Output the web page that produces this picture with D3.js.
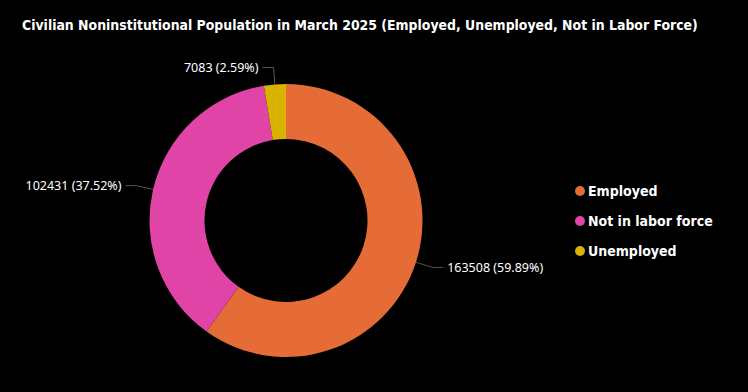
<!DOCTYPE html>
<html>
<head>
<meta charset="utf-8">
<script src="https://cdn.jsdelivr.net/npm/d3@7"></script>
<style>
	body { margin: 0; background: #000; }
	svg { display: block; }
</style>
</head>
<body>
<div id="chart"></div>
<script>
let categories = ["Employed", "Not in labor force", "Unemployed"];
let values = [163508, 102431, 7083];
let percents = ["59.89%", "37.52%", "2.59%"];
let colors = ["#E66C37", "#E044A7", "#D9B300"];

var width = 748,
	height = 392;
var cx = 286, cy = 220.5;
var outerR = 136.5, innerR = 81.5;

var svg = d3.select("#chart").append("svg")
	.attr("width", width)
	.attr("height", height);

svg.append("rect")
	.attr("width", width)
	.attr("height", height)
	.attr("fill", "#000");

svg.append("text")
	.attr("x", 22)
	.attr("y", 30)
	.attr("fill", "#fff")
	.attr("font-family", "DejaVu Sans Condensed")
	.attr("font-weight", "bold")
	.attr("font-size", 13.9)
	.text("Civilian Noninstitutional Population in March 2025 (Employed, Unemployed, Not in Labor Force)");

var colorScale = d3.scaleOrdinal()
	.domain(categories)
	.range(colors);

var data = categories.map(function(c, i) {
	return {name: c, value: values[i], pct: percents[i]};
});

var pie = d3.pie()
	.sort(null)
	.value(function(d) { return d.value; });
var arcs = pie(data);

var arc = d3.arc()
	.innerRadius(innerR)
	.outerRadius(outerR);

var g = svg.append("g")
	.attr("transform", "translate(" + cx + "," + cy + ")");

g.selectAll("path")
	.data(arcs)
	.enter()
	.append("path")
	.attr("d", arc)
	.attr("fill", function(d) { return colorScale(d.data.name); });

// leader lines + labels
function pt(angle, r) {
	return [Math.sin(angle) * r, -Math.cos(angle) * r];
}
arcs.forEach(function(d) {
	var mid = (d.startAngle + d.endAngle) / 2;
	var p1 = pt(mid, outerR);
	var p2 = pt(mid, outerR + 17);
	var right = Math.sin(mid) > 0;
	var p3 = [p2[0] + (right ? 11 : -11), p2[1]];
	g.append("polyline")
		.attr("points", [p1, p2, p3].map(function(p) { return p.join(","); }).join(" "))
		.attr("fill", "none")
		.attr("stroke", "#555")
		.attr("stroke-width", 1);
	g.append("text")
		.attr("x", p3[0] + (right ? 4 : -4))
		.attr("y", p3[1])
		.attr("dy", "0.35em")
		.attr("text-anchor", right ? "start" : "end")
		.attr("fill", "#fff")
		.attr("font-family", "Noto Sans")
		.attr("font-size", 12.5)
		.text(d.data.value + " (" + d.data.pct + ")");
});

// legend
var legend = svg.append("g")
	.attr("transform", "translate(580,191)");
var items = legend.selectAll("g")
	.data(categories)
	.enter()
	.append("g")
	.attr("transform", function(d, i) { return "translate(0," + (i * 30) + ")"; });
items.append("circle")
	.attr("r", 5)
	.attr("fill", function(d) { return colorScale(d); });
items.append("text")
	.attr("x", 8)
	.attr("dy", "0.35em")
	.attr("fill", "#fff")
	.attr("font-family", "DejaVu Sans Condensed")
	.attr("font-weight", "bold")
	.attr("font-size", 14)
	.text(function(d) { return d; });
</script>
</body>
</html>
